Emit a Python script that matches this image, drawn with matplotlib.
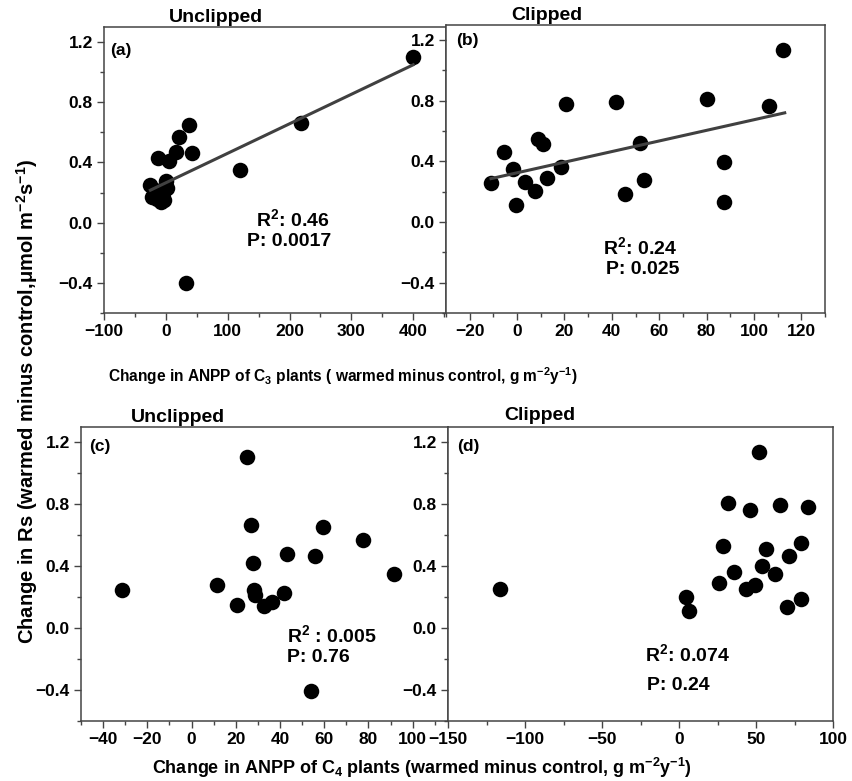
import matplotlib
matplotlib.use("Agg")
import matplotlib.pyplot as plt
import numpy as np
from matplotlib.ticker import MultipleLocator, FuncFormatter

plt.rcParams['font.family'] = ['Liberation Sans', 'DejaVu Sans']
plt.rcParams['font.weight'] = 'bold'
plt.rcParams['mathtext.fontset'] = 'custom'
plt.rcParams['mathtext.rm'] = 'Liberation Sans:bold'
plt.rcParams['mathtext.it'] = 'Liberation Sans:bold'
plt.rcParams['mathtext.bf'] = 'Liberation Sans:bold'
plt.rcParams['axes.unicode_minus'] = True

# ---------------- data ----------------
# (a) C3 ANPP change vs Rs change, unclipped
a_x = [-25, -22, -18, -15, -8, -3, -10, 0, 2, -12, 5, 17, 22, 38, 43, 120, 218, 400, 32, -5]
a_y = [0.25, 0.17, 0.22, 0.16, 0.14, 0.15, 0.18, 0.28, 0.23, 0.43, 0.41, 0.47, 0.57, 0.65, 0.46, 0.35, 0.66, 1.10, -0.40, 0.20]
a_fit = (0.265, 0.00196)          # intercept, slope
a_fit_range = (-25, 400)

# (b) C3 ANPP change vs Rs change, clipped
b_x = [-11.1, -5.6, -1.7, 3.2, 7.4, -0.6, 8.8, 11.0, 12.6, 18.7, 20.8, 41.6, 45.4, 52.0, 53.6, 80.2, 87.2, 87.2, 106.4, 112.3]
b_y = [0.258, 0.462, 0.348, 0.264, 0.205, 0.110, 0.550, 0.513, 0.293, 0.363, 0.777, 0.793, 0.183, 0.522, 0.280, 0.810, 0.396, 0.132, 0.764, 1.138]
b_fit = (0.325, 0.0035)
b_fit_range = (-11, 113)

# (c) C4 ANPP change vs Rs change, unclipped
c_x = [-31.6, 11.6, 20.4, 24.9, 27.0, 27.8, 28.2, 28.9, 32.7, 36.5, 41.7, 43.2, 54.1, 56.0, 59.5, 77.4, 91.4]
c_y = [0.246, 0.280, 0.150, 1.109, 0.664, 0.422, 0.248, 0.216, 0.140, 0.166, 0.226, 0.480, -0.407, 0.465, 0.651, 0.567, 0.349]

# (d) C4 ANPP change vs Rs change, clipped
d_x = [-116.5, 4.8, 6.5, 26.0, 28.6, 31.8, 35.5, 45.9, 43.3, 49.1, 51.9, 53.9, 56.7, 62.1, 65.4, 71.4, 70.1, 79.4, 79.4, 83.8]
d_y = [0.254, 0.200, 0.108, 0.291, 0.528, 0.812, 0.362, 0.765, 0.254, 0.280, 1.137, 0.399, 0.513, 0.349, 0.793, 0.467, 0.134, 0.549, 0.187, 0.782]

y_ticks = [-0.4, 0.0, 0.4, 0.8, 1.2]
panel_labels = ['(a)', '(b)', '(c)', '(d)']
titles = ['Unclipped', 'Clipped', 'Unclipped', 'Clipped']
stats = [('R$^2$: 0.46', 'P: 0.0017'), ('R$^2$: 0.24', 'P: 0.025'),
         ('R$^2$ : 0.005', 'P: 0.76'), ('R$^2$: 0.074', 'P: 0.24')]

# ---------------- layout ----------------
W, H = 852, 781
fig = plt.figure(figsize=(W / 100, H / 100), dpi=100)


def rect(l, t, r, b):
    return [l / W, 1 - b / H, (r - l) / W, (b - t) / H]


def fx(px):
    return px / W


def fy(py):
    return 1 - py / H


spine_col = '#444444'
yfmt = FuncFormatter(lambda v, p: ('%.1f' % v).replace('-', '\u2212'))
xfmt = FuncFormatter(lambda v, p: ('%g' % v).replace('-', '\u2212'))


def style(ax, xlim, xmaj, xmin):
    ax.set_xlim(*xlim)
    ax.set_ylim(-0.6, 1.3)
    ax.xaxis.set_major_locator(MultipleLocator(xmaj))
    ax.xaxis.set_minor_locator(MultipleLocator(xmin))
    ax.xaxis.set_major_formatter(xfmt)
    ax.set_yticks(y_ticks)
    ax.yaxis.set_minor_locator(MultipleLocator(0.2))
    ax.yaxis.set_major_formatter(yfmt)
    ax.tick_params(which='major', direction='out', length=5, width=1, labelsize=12.5,
                   colors=spine_col, labelcolor='black', pad=3)
    ax.tick_params(which='minor', direction='out', length=3, width=1, colors=spine_col)
    for lab in ax.get_xticklabels() + ax.get_yticklabels():
        lab.set_fontweight('bold')
    for s in ax.spines.values():
        s.set_color(spine_col)
        s.set_linewidth(1.1)


ms = 125

# (a)
ax_a = fig.add_axes(rect(104, 27, 446, 313))
ax_a.scatter(a_x, a_y, s=ms, color='black', linewidths=0, zorder=3)
xx = np.array(a_fit_range)
ax_a.plot(xx, a_fit[0] + a_fit[1] * xx, color='#404040', lw=2.2, zorder=4)
style(ax_a, (-100, 453), 100, 50)

# (b)
ax_b = fig.add_axes(rect(446, 25, 825, 313))
ax_b.scatter(b_x, b_y, s=ms, color='black', linewidths=0, zorder=3)
xx = np.array(b_fit_range)
ax_b.plot(xx, b_fit[0] + b_fit[1] * xx, color='#404040', lw=2.2, zorder=4)
style(ax_b, (-30, 130), 20, 10)

# (c)
ax_c = fig.add_axes(rect(81, 427, 448, 721))
ax_c.scatter(c_x, c_y, s=ms, color='black', linewidths=0, zorder=3)
style(ax_c, (-50, 116), 20, 10)

# (d)
ax_d = fig.add_axes(rect(448, 427, 833, 721))
ax_d.scatter(d_x, d_y, s=ms, color='black', linewidths=0, zorder=3)
style(ax_d, (-150, 100), 50, 25)

# titles
for (px, py), t in zip([(216, 17), (547, 16), (178, 417), (540, 416)], titles):
    fig.text(fx(px), fy(py), t, ha='center', va='center', fontsize=14, fontweight='bold')

# panel labels
for (px, py), t in zip([(121, 51), (467, 40), (100, 447), (468, 447)], panel_labels):
    fig.text(fx(px), fy(py), t, ha='center', va='center', fontsize=12.5, fontweight='bold')

# stats text
fig.text(fx(293), fy(219), stats[0][0], ha='center', va='center', fontsize=14, fontweight='bold')
fig.text(fx(289), fy(241), stats[0][1], ha='center', va='center', fontsize=14, fontweight='bold')
fig.text(fx(640), fy(247), stats[1][0], ha='center', va='center', fontsize=14, fontweight='bold')
fig.text(fx(643), fy(269), stats[1][1], ha='center', va='center', fontsize=14, fontweight='bold')
fig.text(fx(287), fy(635), stats[2][0], ha='left', va='center', fontsize=14, fontweight='bold')
fig.text(fx(287), fy(658), stats[2][1], ha='left', va='center', fontsize=14, fontweight='bold')
fig.text(fx(645), fy(654), stats[3][0], ha='left', va='center', fontsize=14, fontweight='bold')
fig.text(fx(647), fy(685), stats[3][1], ha='left', va='center', fontsize=14, fontweight='bold')

# axis labels
fig.text(fx(27), fy(401), 'Change in Rs (warmed minus control,μmol m$^{-2}$s$^{-1}$)',
         rotation=90, ha='center', va='center', fontsize=14.5, fontweight='bold')
fig.text(fx(343), fy(376), 'Change in ANPP of C$_3$ plants ( warmed minus control, g m$^{-2}$y$^{-1}$)',
         ha='center', va='center', fontsize=11.2, fontweight='bold')
fig.text(fx(422), fy(768), 'Change in ANPP of C$_4$ plants (warmed minus control, g m$^{-2}$y$^{-1}$)',
         ha='center', va='center', fontsize=13, fontweight='bold')

fig.savefig('out.png', dpi=100, facecolor='white')
